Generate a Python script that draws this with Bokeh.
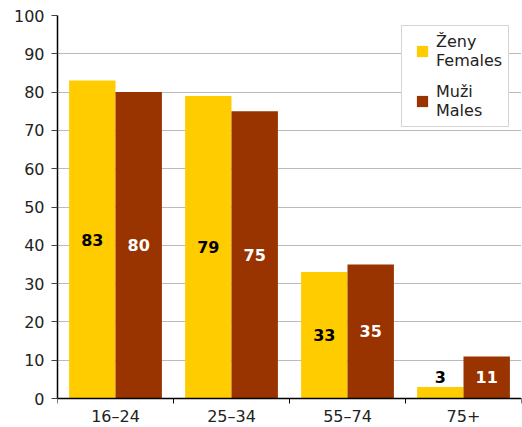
from bokeh.plotting import figure
from bokeh.models import ColumnDataSource, FixedTicker, Legend, LegendItem
from bokeh.core.properties import value
from bokeh.embed import file_html
from bokeh.resources import INLINE

categories = ["16–24", "25–34", "55–74", "75+"]
females = [83, 79, 33, 3]
males = [80, 75, 35, 11]
y_ticks = [0, 10, 20, 30, 40, 50, 60, 70, 80, 90, 100]

FONT = "DejaVu Sans"
YELLOW = "#FFCC00"
BROWN = "#993300"

n = len(categories)
centers = [i + 0.5 for i in range(n)]
bw = 0.4
Y_BOTTOM = -7.57  # room below zero for the category labels

def label_y(v):
    return v / 2 if v > 8 else v + 2.6

src_f = ColumnDataSource(dict(x=[c - bw / 2 for c in centers], top=females,
                              ly=[label_y(v) for v in females],
                              txt=[str(v) for v in females]))
src_m = ColumnDataSource(dict(x=[c + bw / 2 for c in centers], top=males,
                              ly=[label_y(v) for v in males],
                              txt=[str(v) for v in males]))

p = figure(width=522, height=427, x_range=(0, n), y_range=(Y_BOTTOM, 100),
           output_backend="svg", toolbar_location=None,
           min_border_left=57, min_border_right=1, min_border_top=15,
           min_border_bottom=0)
p.outline_line_color = None
p.background_fill_color = "white"
p.border_fill_color = "white"

rf = p.vbar(x="x", top="top", width=bw, source=src_f, fill_color=YELLOW,
            line_color=None)
rm = p.vbar(x="x", top="top", width=bw, source=src_m, fill_color=BROWN,
            line_color=None)

p.text(x="x", y="ly", text="txt", source=src_f, text_align="center",
       text_baseline="middle", text_font=value(FONT), text_font_style="bold",
       text_font_size="16px", text_color="black")
p.text(x="x", y="ly", text="txt", source=src_m, text_align="center",
       text_baseline="middle", text_font=value(FONT), text_font_style="bold",
       text_font_size="16px", text_color="white")

# y axis
p.yaxis.ticker = FixedTicker(ticks=y_ticks)
p.yaxis.bounds = (0, 100)
p.yaxis.axis_line_color = "black"
p.yaxis.axis_line_width = 1.5
p.yaxis.major_tick_line_color = "#444444"
p.yaxis.major_tick_out = 6
p.yaxis.major_tick_in = 0
p.yaxis.minor_tick_line_color = None
p.yaxis.major_label_text_font = FONT
p.yaxis.major_label_text_font_size = "16px"
p.yaxis.major_label_text_color = "#222222"
p.yaxis.major_label_standoff = 7

# x axis at y=0: labels at category centres, tick marks at boundaries
p.xaxis.fixed_location = 0
p.xaxis.ticker = FixedTicker(ticks=centers, minor_ticks=list(range(n + 1)))
p.xaxis.major_label_overrides = {c: cat for c, cat in zip(centers, categories)}
p.xaxis.axis_line_color = "black"
p.xaxis.axis_line_width = 1.5
p.xaxis.major_tick_line_color = None
p.xaxis.major_tick_out = 0
p.xaxis.major_tick_in = 0
p.xaxis.minor_tick_line_color = "black"
p.xaxis.minor_tick_out = 5
p.xaxis.minor_tick_in = 0
p.xaxis.major_label_text_font = FONT
p.xaxis.major_label_text_font_size = "16px"
p.xaxis.major_label_text_color = "#222222"
p.xaxis.major_label_standoff = 3

p.xgrid.grid_line_color = None
p.ygrid.grid_line_color = "#BBBBBB"
p.ygrid.grid_line_width = 1

# legend proxies (squares), never visible in the plot area
nan = float("nan")
pf = p.scatter(x=[nan], y=[nan], marker="square", size=11, fill_color=YELLOW,
               line_color=None)
pm = p.scatter(x=[nan], y=[nan], marker="square", size=11, fill_color=BROWN,
               line_color=None)

legend = Legend(items=[LegendItem(label="Ženy\nFemales", renderers=[pf]),
                       LegendItem(label="Muži\nMales", renderers=[pm])],
                location=(344, 300))
legend.border_line_color = "#AAAAAA"
legend.border_line_width = 1
legend.background_fill_color = "white"
legend.background_fill_alpha = 1
legend.label_text_font = FONT
legend.label_text_font_size = "16px"
legend.label_text_color = "#222222"
legend.glyph_width = 28
legend.glyph_height = 28
legend.label_standoff = 0
legend.spacing = 12
legend.padding = 6
legend.margin = 0
p.add_layout(legend)

open("out.html", "w").write(file_html(p, INLINE))
